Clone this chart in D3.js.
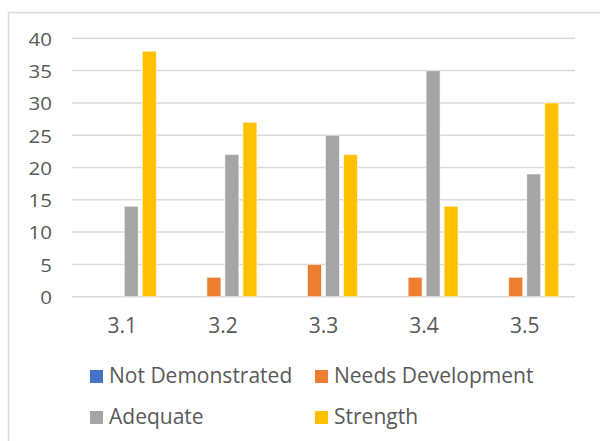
<!DOCTYPE html>
<html>
<head>
<meta charset="utf-8">
<script src="https://cdn.jsdelivr.net/npm/d3@7"></script>
<style>
  html, body { margin: 0; padding: 0; background: #fff; }
  svg { display: block; }
  text { font-family: "Open Sans", "Noto Sans", sans-serif; fill: #595959; }
</style>
</head>
<body>
<svg id="chart" width="600" height="441"></svg>
<script>
// Ratings per standard
const categories = ["3.1", "3.2", "3.3", "3.4", "3.5"];
const seriesNames = ["Not Demonstrated", "Needs Development", "Adequate", "Strength"];
const seriesColors = ["#4472C4", "#ED7D31", "#A5A5A5", "#FFC000"];
const notDemonstrated = [0, 0, 0, 0, 0];
const needsDevelopment = [0, 3, 5, 3, 3];
const adequate = [14, 22, 25, 35, 19];
const strength = [38, 27, 22, 14, 30];
const yTicks = [0, 5, 10, 15, 20, 25, 30, 35, 40];

const seriesValues = [notDemonstrated, needsDevelopment, adequate, strength];

const svg = d3.select("#chart");

// Chart frame
svg.append("rect")
  .attr("x", 8.5).attr("y", 12.5)
  .attr("width", 640).attr("height", 460)
  .attr("fill", "none")
  .attr("stroke", "#d9d9d9")
  .attr("stroke-width", 1.5);

const plot = { left: 72, right: 575, top: 38.3, bottom: 296.7 };

const x0 = d3.scaleBand()
  .domain(categories)
  .range([plot.left, plot.right]);

const x1 = d3.scaleBand()
  .domain(seriesNames)
  .range([-34, 34])
  .paddingInner(4 / 18);

const y = d3.scaleLinear()
  .domain([0, 40])
  .range([plot.bottom, plot.top]);

// Horizontal gridlines
svg.append("g")
  .selectAll("line")
  .data(yTicks)
  .join("line")
  .attr("x1", plot.left).attr("x2", plot.right)
  .attr("y1", d => y(d)).attr("y2", d => y(d))
  .attr("stroke", "#d9d9d9")
  .attr("stroke-width", 1.5);

// Y axis labels
const yAxis = d3.axisLeft(y).tickValues(yTicks).tickSize(0).tickPadding(0);
const yg = svg.append("g")
  .attr("transform", `translate(${plot.left - 20},0)`)
  .call(yAxis);
yg.select(".domain").remove();
yg.selectAll("text")
  .attr("font-size", 19)
  .attr("font-family", null)
  .attr("fill", "#595959")
  .attr("x", 0)
  .attr("dy", "0.36em")
  .attr("transform", "scale(1.08,1)");

// X axis labels
const xAxis = d3.axisBottom(x0).tickSize(0).tickPadding(0);
const xg = svg.append("g")
  .attr("transform", `translate(0,${plot.bottom})`)
  .call(xAxis);
xg.select(".domain").remove();
xg.selectAll("text")
  .attr("font-size", 21)
  .attr("font-family", null)
  .attr("fill", "#595959")
  .attr("y", 36)
  .attr("dy", null);

// Bars
const groups = svg.append("g")
  .selectAll("g")
  .data(categories)
  .join("g")
  .attr("transform", c => `translate(${x0(c) + x0.bandwidth() / 2},0)`);

groups.selectAll("rect")
  .data((c, ci) => seriesNames.map((s, si) => ({ s, si, v: seriesValues[si][ci] })))
  .join("rect")
  .filter(d => d.v > 0)
  .attr("x", d => x1(d.s))
  .attr("width", x1.bandwidth())
  .attr("y", d => y(d.v))
  .attr("height", d => y(0) - y(d.v))
  .attr("fill", d => seriesColors[d.si])
  .attr("stroke", "#ffffff")
  .attr("stroke-opacity", 0.6)
  .attr("stroke-width", 1);

// Legend
const legendPos = [[90, 383], [315, 383], [90, 424], [315, 424]];
const legend = svg.append("g")
  .selectAll("g")
  .data(seriesNames)
  .join("g")
  .attr("transform", (d, i) => `translate(${legendPos[i][0]},${legendPos[i][1]})`);

legend.append("rect")
  .attr("x", 0).attr("y", -13)
  .attr("width", 13).attr("height", 13)
  .attr("fill", (d, i) => seriesColors[i]);

legend.append("text")
  .attr("x", 19).attr("y", 0)
  .attr("font-size", 21)
  .text(d => d);
</script>
</body>
</html>
